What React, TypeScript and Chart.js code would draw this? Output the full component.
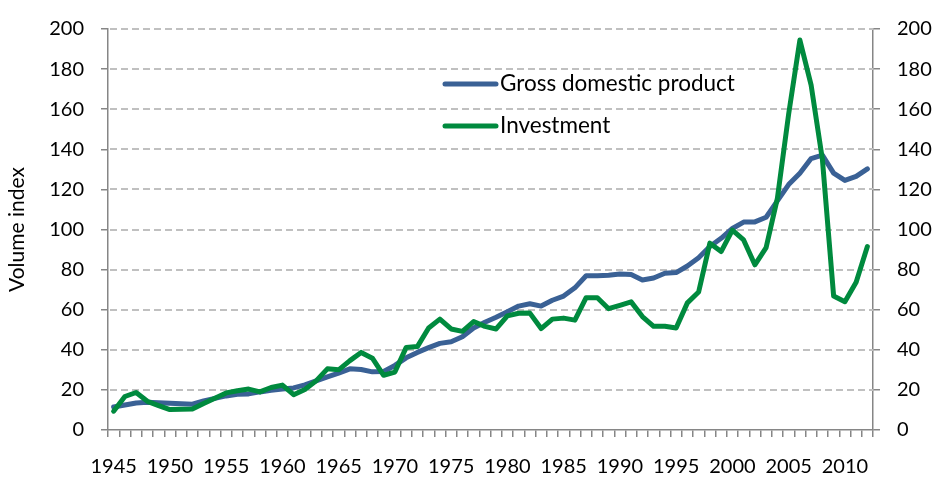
import React, { useEffect, useRef } from "react";
import { Chart, registerables } from "chart.js";

Chart.register(...registerables);

const years: string[] = [];
for (let y = 1945; y <= 2012; y++) years.push(String(y));

const gdp = [
  11.5, 12.5, 13.5, 13.8, 13.6, 13.3, 13.1, 12.9, 14.5, 15.8,
  17, 17.8, 18, 19, 19.8, 20.5, 21, 22.5, 24.5, 26.5,
  28.4, 30.5, 30.2, 29, 29.2, 32.2, 36, 38.7, 41.1, 43.2,
  44, 46.5, 50.9, 53.7, 56.2, 59, 61.8, 63, 61.8, 64.7,
  66.8, 70.9, 76.9, 76.9, 77.2, 77.8, 77.5, 74.8, 75.8, 78.2,
  78.5, 81.8, 85.9, 91.5, 95.6, 100.5, 103.7, 103.8, 106.1, 114.3,
  122.4, 128.1, 135.4, 137.1, 128.1, 124.5, 126.5, 130.2,
];

const investment = [
  9.4, 16.7, 18.7, 14.3, 12.2, 10.2, 10.4, 10.5, 13.2, 15.8,
  18.5, 19.6, 20.4, 19, 21.2, 22.4, 17.6, 20.2, 24.5, 30.5,
  30, 34.6, 38.7, 35.8, 27.3, 28.9, 41.1, 41.6, 50.9, 55.3,
  50.4, 49.2, 54.1, 51.7, 50.4, 56.9, 58.2, 58.3, 50.6, 55.3,
  55.8, 54.8, 66, 66, 60.5, 62.2, 63.9, 56.6, 51.7, 51.7,
  50.9, 63.4, 68.8, 93.2, 89, 99.7, 94.8, 82.4, 91, 115.5,
  157.5, 194.5, 172, 135, 66.8, 64, 73.7, 91.5,
];

const seriesNames = ["Gross domestic product", "Investment"];
const seriesColors = ["#3A6195", "#008A3E"];
const yTitle = "Volume index";

const FONT = "Lato, 'Open Sans', sans-serif";

const dashedGridPlugin = {
  id: "dashedGrid",
  beforeDatasetsDraw(chart: any) {
    const ctx = chart.ctx;
    const ys = chart.scales.y;
    const { left, right } = chart.chartArea;
    ctx.save();
    ctx.strokeStyle = "#C0C0C0";
    ctx.lineWidth = 2;
    ctx.setLineDash([7, 4]);
    ys.ticks.forEach((t: any) => {
      if (t.value === 0) return;
      const py = Math.round(ys.getPixelForValue(t.value));
      ctx.beginPath();
      ctx.moveTo(left + 2, py);
      ctx.lineTo(right, py);
      ctx.stroke();
    });
    ctx.restore();
  },
};

const legendPlugin = {
  id: "customLegend",
  afterDraw(chart: any) {
    const ctx = chart.ctx;
    const items = [
      { name: seriesNames[0], color: seriesColors[0], y: 84 },
      { name: seriesNames[1], color: seriesColors[1], y: 126 },
    ];
    ctx.save();
    items.forEach((it) => {
      ctx.strokeStyle = it.color;
      ctx.lineWidth = 5;
      ctx.lineCap = "round";
      ctx.beginPath();
      ctx.moveTo(445, it.y);
      ctx.lineTo(496, it.y);
      ctx.stroke();
      ctx.fillStyle = "#000";
      ctx.font = `22.5px ${FONT}`;
      ctx.textBaseline = "middle";
      ctx.textAlign = "left";
      ctx.fillText(it.name, 500, it.y);
    });
    ctx.restore();
  },
};

export default function App() {
  const ref = useRef<HTMLCanvasElement | null>(null);
  useEffect(() => {
    if (!ref.current) return;
    const axisColor = "#868686";
    const chart = new Chart(ref.current, {
      type: "line",
      data: {
        labels: years,
        datasets: [
          {
            label: seriesNames[0],
            data: gdp,
            borderColor: seriesColors[0],
            backgroundColor: seriesColors[0],
            borderWidth: 5,
            pointRadius: 0,
            tension: 0,
            borderJoinStyle: "round",
            borderCapStyle: "round",
            order: 1,
            yAxisID: "y",
          },
          {
            label: seriesNames[1],
            data: investment,
            borderColor: seriesColors[1],
            backgroundColor: seriesColors[1],
            borderWidth: 5,
            pointRadius: 0,
            tension: 0,
            borderJoinStyle: "round",
            borderCapStyle: "round",
            order: 0,
            yAxisID: "y",
          },
        ],
      },
      options: {
        animation: false,
        responsive: false,
        maintainAspectRatio: false,
        layout: { padding: { top: 20, left: 0, right: 0, bottom: 0 } },
        plugins: {
          legend: { display: false },
          tooltip: { enabled: false },
        },
        scales: {
          x: {
            type: "category",
            offset: true,
            grid: {
              offset: true,
              drawOnChartArea: false,
              drawTicks: true,
              tickLength: 7,
              color: axisColor,
              tickColor: axisColor,
              lineWidth: 1.5,
              tickWidth: 1.5,
            },
            border: { display: true, color: axisColor, width: 1.5 },
            ticks: {
              autoSkip: false,
              maxRotation: 0,
              minRotation: 0,
              padding: 18,
              color: "#000",
              font: { family: FONT, size: 20 },
              callback: (_v: any, i: number) =>
                Number(years[i]) % 5 === 0 ? years[i] : "",
            },
            afterFit: (s: any) => {
              s.height = 48;
            },
          },
          y: {
            position: "left",
            min: 0,
            max: 200,
            grid: {
              drawOnChartArea: false,
              drawTicks: true,
              tickLength: 7,
              color: axisColor,
              lineWidth: 1.5,
              tickColor: axisColor,
              tickWidth: 1.5,
            },
            border: { display: true, color: axisColor, width: 1.5 },
            ticks: {
              stepSize: 20,
              padding: 17,
              color: "#000",
              font: { family: FONT, size: 20 },
            },
            title: {
              display: true,
              text: yTitle,
              color: "#000",
              font: { family: FONT, size: 21 },
              padding: { top: 5, bottom: 0 },
            },
            afterFit: (s: any) => {
              s.width = 108;
            },
          },
          y2: {
            position: "right",
            min: 0,
            max: 200,
            grid: {
              drawOnChartArea: false,
              drawTicks: true,
              tickLength: 7,
              color: axisColor,
              tickColor: axisColor,
              lineWidth: 1.5,
              tickWidth: 1.5,
            },
            border: { display: true, color: axisColor, width: 1.5 },
            ticks: {
              stepSize: 20,
              padding: 17,
              color: "#000",
              font: { family: FONT, size: 20 },
            },
            afterFit: (s: any) => {
              s.width = 63;
            },
          },
        },
      },
      plugins: [dashedGridPlugin, legendPlugin],
    });
    return () => chart.destroy();
  }, []);

  return (
    <div style={{ position: "fixed", left: 0, top: 0, width: 936, height: 478, background: "#fff" }}>
      <canvas ref={ref} width={936} height={478} style={{ width: 936, height: 478 }} />
    </div>
  );
}
